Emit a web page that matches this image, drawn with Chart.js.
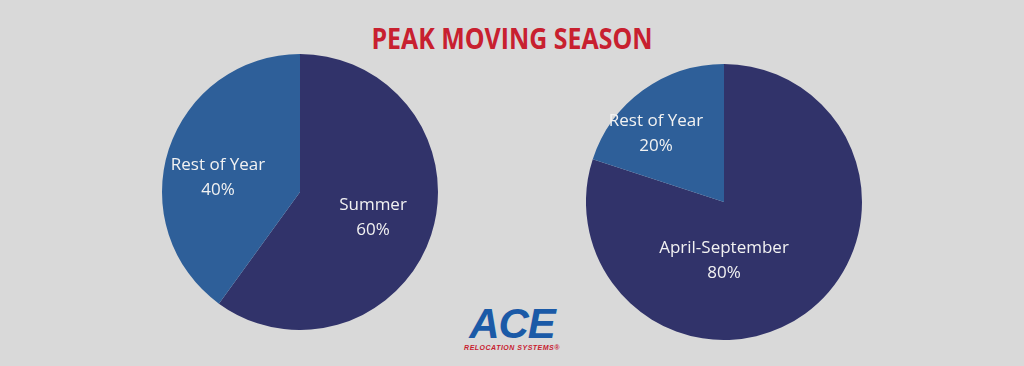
<!DOCTYPE html>
<html>
<head>
<meta charset="utf-8">
<script src="https://cdn.jsdelivr.net/npm/chart.js@4.4.1/dist/chart.umd.min.js"></script>
<style>
  html, body { margin: 0; padding: 0; }
  body { width: 1024px; height: 366px; background: #d9d9d9; position: relative; overflow: hidden; }
  .title {
    position: absolute; left: 0; width: 1024px; top: 20px; text-align: center;
    font-family: 'Open Sans', sans-serif; font-weight: 700; font-size: 28px; color: #c8202f;
    transform: scaleX(0.89); transform-origin: 512px 0; line-height: 36px;
  }
  .pie { position: absolute; width: 276px; height: 276px; }
  #pie-left  { left: 162px; top: 54px; }
  #pie-right { left: 586px; top: 64px; }
  .logo { position: absolute; left: 452px; top: 304px; width: 120px; text-align: center; white-space: nowrap; }
  .logo .ace { font-family: 'Liberation Sans', Arial, sans-serif; font-weight: 700; font-style: italic;
    font-size: 42px; color: #1b5aa7; line-height: 40px; letter-spacing: -1px; }
  .logo .sub { font-family: 'Liberation Sans', Arial, sans-serif; font-weight: 700; font-style: italic;
    font-size: 7px; color: #c8202f; letter-spacing: 0.5px; line-height: 8px; }
</style>
</head>
<body>
<div class="title">PEAK MOVING SEASON</div>
<div class="pie" id="pie-left"><canvas id="chart-left"></canvas></div>
<div class="pie" id="pie-right"><canvas id="chart-right"></canvas></div>
<div class="logo"><div class="ace">ACE</div><div class="sub">RELOCATION SYSTEMS®</div></div>
<script>
// ---- data ----
const leftLabels  = ['Summer', 'Rest of Year'];
const leftValues  = [60, 40];
const rightLabels = ['April-September', 'Rest of Year'];
const rightValues = [80, 20];

const NAVY = '#31336a';
const BLUE = '#2e5f99';

// label offsets from pie centre (text placement only)
const leftLabelPos  = [[73, 25], [-82, -15]];
const rightLabelPos = [[0, 58], [-68, -69]];

const sliceLabels = {
  id: 'sliceLabels',
  afterDatasetsDraw(chart, args, opts) {
    const { ctx } = chart;
    const meta = chart.getDatasetMeta(0);
    const data = chart.data.datasets[0].data;
    ctx.save();
    ctx.fillStyle = '#f2f2f2';
    ctx.font = "17px 'Open Sans', sans-serif";
    ctx.textAlign = 'center';
    ctx.textBaseline = 'middle';
    meta.data.forEach((arc, i) => {
      const [dx, dy] = opts.pos[i];
      const x = arc.x + dx, y = arc.y + dy;
      ctx.fillText(chart.data.labels[i], x, y - 12);
      ctx.fillText(data[i] + '%', x, y + 13);
    });
    ctx.restore();
  }
};

function makePie(id, labels, values, pos) {
  return new Chart(document.getElementById(id), {
    type: 'pie',
    data: {
      labels,
      datasets: [{ data: values, backgroundColor: [NAVY, BLUE], borderWidth: 0 }]
    },
    options: {
      responsive: true,
      maintainAspectRatio: false,
      animation: false,
      layout: { padding: 0 },
      plugins: {
        legend: { display: false },
        tooltip: { enabled: false },
        sliceLabels: { pos }
      }
    },
    plugins: [sliceLabels]
  });
}

makePie('chart-left', leftLabels, leftValues, leftLabelPos);
makePie('chart-right', rightLabels, rightValues, rightLabelPos);
</script>
</body>
</html>
